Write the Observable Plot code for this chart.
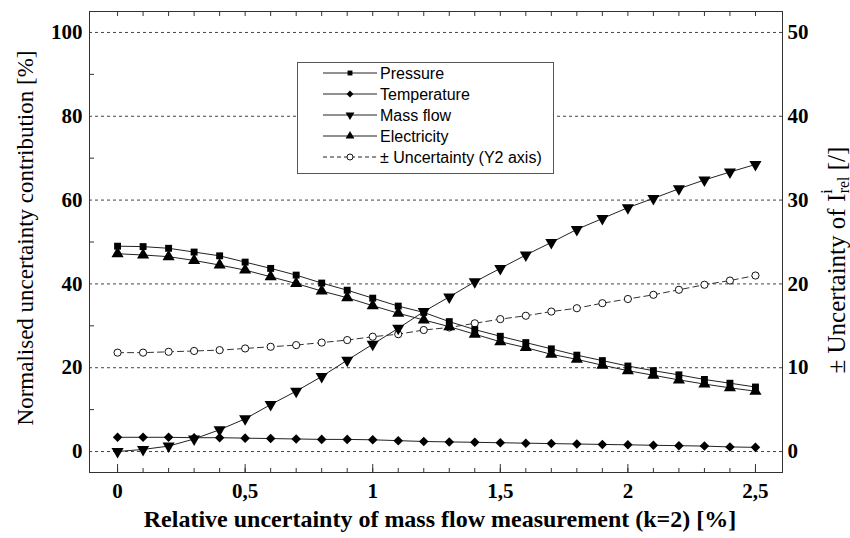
<!DOCTYPE html>
<html><head><meta charset="utf-8">
<script src="https://cdn.jsdelivr.net/npm/d3@7"></script>
<script src="https://cdn.jsdelivr.net/npm/@observablehq/plot@0.6"></script>
<style>
body{margin:0;background:#fff;}
#chart{width:850px;height:538px;}
</style></head><body><div id="chart"></div>
<script>
// ---- data ----
const xValues = [0, 0.1, 0.2, 0.3, 0.4, 0.5, 0.6, 0.7, 0.8, 0.9, 1.0, 1.1, 1.2, 1.3, 1.4, 1.5, 1.6, 1.7, 1.8, 1.9, 2.0, 2.1, 2.2, 2.3, 2.4, 2.5];
const pressure = [49.0, 48.9, 48.5, 47.6, 46.7, 45.2, 43.7, 42.1, 40.2, 38.5, 36.6, 34.7, 33.2, 31.0, 29.1, 27.5, 26.0, 24.5, 23.0, 21.7, 20.4, 19.3, 18.3, 17.2, 16.3, 15.4];
const temperature = [3.4, 3.4, 3.4, 3.3, 3.3, 3.2, 3.1, 3.0, 2.9, 2.9, 2.8, 2.6, 2.4, 2.3, 2.2, 2.1, 2.0, 1.9, 1.8, 1.7, 1.6, 1.5, 1.4, 1.3, 1.1, 1.0];
const massFlow = [0.0, 0.5, 1.3, 3.0, 5.2, 7.8, 11.2, 14.4, 17.9, 21.8, 25.6, 29.4, 33.4, 36.9, 40.5, 43.7, 46.9, 49.9, 53.0, 55.6, 58.2, 60.4, 62.7, 64.8, 66.7, 68.5];
const electricity = [47.2, 46.9, 46.5, 45.6, 44.5, 43.3, 41.7, 40.1, 38.3, 36.7, 34.8, 33.0, 31.4, 29.8, 28.0, 26.2, 24.8, 23.2, 22.0, 20.6, 19.3, 18.2, 17.1, 16.1, 15.2, 14.4];
const uncertainty = [11.8, 11.8, 11.9, 12.0, 12.1, 12.3, 12.5, 12.7, 13.0, 13.3, 13.7, 14.0, 14.5, 14.8, 15.3, 15.8, 16.2, 16.7, 17.1, 17.7, 18.2, 18.7, 19.3, 19.9, 20.4, 21.0];
const seriesNames = ["Pressure", "Temperature", "Mass flow", "Electricity", "\u00B1 Uncertainty (Y2 axis)"];
const xTicks = [0, 0.5, 1, 1.5, 2, 2.5];
const yTicks = [0, 20, 40, 60, 80, 100];
const yMinorTicks = [10, 30, 50, 70, 90];
const y2Ticks = [0, 10, 20, 30, 40, 50];
const yTitle = "Normalised uncertainty contribution [%]";
const xTitle = "Relative uncertainty of mass flow measurement (k=2) [%]";

// ---- layout ----
const W = 850, H = 538, mL = 89, mR = 68, mT = 11, mB = 66;
const innerW = W - mL - mR, innerH = H - mT - mB;
const yDomain = [-5, 105], y2Domain = [-2.5, 52.5];
const y2Factor = (yDomain[1] - yDomain[0]) / (y2Domain[1] - y2Domain[0]);

const rows = (vals, f = 1) => xValues.map((x, i) => ({x, y: vals[i] * f}));
const fmt = d => String(d).replace(".", ",");
const serif = "Liberation Serif, Times New Roman, serif";
const sans = "Liberation Sans, Arial, sans-serif";
const lineCol = "#222";

const series = [
  {data: rows(pressure), symbol: "square", r: 3.9, rotate: 0},
  {data: rows(temperature), symbol: "diamond2", r: 4.3, rotate: 0},
  {data: rows(massFlow), symbol: "triangle", r: 4.5, rotate: 180},
  {data: rows(electricity), symbol: "triangle", r: 4.5, rotate: 0}
];

const marks = [
  Plot.ruleY(yTicks, {stroke: "#444", strokeDasharray: "3,3"}),
  Plot.frame({stroke: "#333"}),
  Plot.ruleX(xValues, {insetTop: innerH - 4, stroke: "#333"}),
  Plot.ruleX(xTicks, {insetTop: innerH - 8, stroke: "#333"}),
  Plot.ruleX(xValues, {insetBottom: innerH - 5, stroke: "#333"}),
  Plot.ruleY(yMinorTicks, {insetRight: innerW - 5, stroke: "#333"}),
  Plot.line(rows(uncertainty, y2Factor), {x: "x", y: "y", stroke: "#333", strokeWidth: 1, strokeDasharray: "6,4"}),
  Plot.dot(rows(uncertainty, y2Factor), {x: "x", y: "y", r: 3.6, fill: "white", stroke: "#111", strokeWidth: 1})
];
for (const s of series) {
  marks.push(Plot.line(s.data, {x: "x", y: "y", stroke: lineCol, strokeWidth: 1}));
}
for (const s of series) {
  marks.push(Plot.dot(s.data, {x: "x", y: "y", symbol: s.symbol, r: s.r, rotate: s.rotate, fill: "black", stroke: "none"}));
}
marks.push(
  Plot.axisX(xTicks, {anchor: "bottom", tickSize: 0, tickPadding: 11, tickFormat: fmt, label: null,
    fontSize: 21, fontWeight: "bold", fontFamily: serif, fill: "black"}),
  Plot.axisY(yTicks, {anchor: "left", tickSize: 0, tickPadding: 7, label: null,
    fontSize: 21, fontWeight: "bold", fontFamily: serif, fill: "black"}),
  Plot.axisY(y2Ticks.map(v => v * y2Factor), {anchor: "right", tickSize: 0, tickPadding: 5, label: null,
    tickFormat: d => fmt(d / y2Factor), fontSize: 21, fontWeight: "bold", fontFamily: serif, fill: "black"})
);

const chart = Plot.plot({
  width: W, height: H,
  marginLeft: mL, marginRight: mR, marginTop: mT, marginBottom: mB,
  x: {domain: [-0.11, 2.606]},
  y: {domain: yDomain},
  style: {background: "white", fontFamily: serif, overflow: "visible"},
  marks
});
document.getElementById("chart").appendChild(chart);

// ---- titles and legend ----
const svg = d3.select(chart);
svg.append("text")
  .attr("transform", "translate(25,238) rotate(-90)")
  .attr("text-anchor", "middle").attr("dominant-baseline", "central")
  .attr("font-family", serif).attr("font-size", 23).attr("fill", "black")
  .text(yTitle);
svg.append("text")
  .attr("x", 440).attr("y", 527)
  .attr("text-anchor", "middle")
  .attr("font-family", serif).attr("font-size", 24).attr("font-weight", "bold").attr("fill", "black")
  .text(xTitle);
const rt = svg.append("text")
  .attr("transform", "translate(836,260) rotate(-90)")
  .attr("text-anchor", "middle").attr("dominant-baseline", "central")
  .attr("font-family", serif).attr("font-size", 25).attr("fill", "black");
rt.append("tspan").text("\u00B1 Uncertainty of I");
rt.append("tspan").attr("font-size", 16).attr("dy", -10).text("i");
rt.append("tspan").attr("font-size", 16).attr("dx", -4).attr("dy", 17).text("rel");
rt.append("tspan").attr("dy", -7).text(" [/]");

const lg = svg.append("g");
lg.append("rect").attr("x", 297.5).attr("y", 62.5).attr("width", 256).attr("height", 111)
  .attr("fill", "white").attr("stroke", "#555");
const legendSym = [
  {type: d3.symbolSquare, size: 24, rot: 0},
  {type: d3.symbolDiamond2, size: 30, rot: 0},
  {type: d3.symbolTriangle, size: 34, rot: 180},
  {type: d3.symbolTriangle, size: 34, rot: 0},
  null
];
seriesNames.forEach((name, i) => {
  const yy = 73 + i * 21;
  const dashed = i === 4;
  lg.append("line").attr("x1", 323).attr("x2", 377).attr("y1", yy).attr("y2", yy)
    .attr("stroke", "#222").attr("stroke-dasharray", dashed ? "4,3" : null);
  if (dashed) {
    lg.append("circle").attr("cx", 350).attr("cy", yy).attr("r", 3)
      .attr("fill", "white").attr("stroke", "#111");
  } else {
    const s = legendSym[i];
    lg.append("path").attr("d", d3.symbol(s.type, s.size)())
      .attr("transform", `translate(350,${yy}) rotate(${s.rot})`).attr("fill", "black");
  }
  lg.append("text").attr("x", 380).attr("y", yy).attr("dominant-baseline", "central")
    .attr("text-anchor", "start")
    .attr("font-family", sans).attr("font-size", 16).attr("fill", "black").text(name);
});
</script>
</body></html>
